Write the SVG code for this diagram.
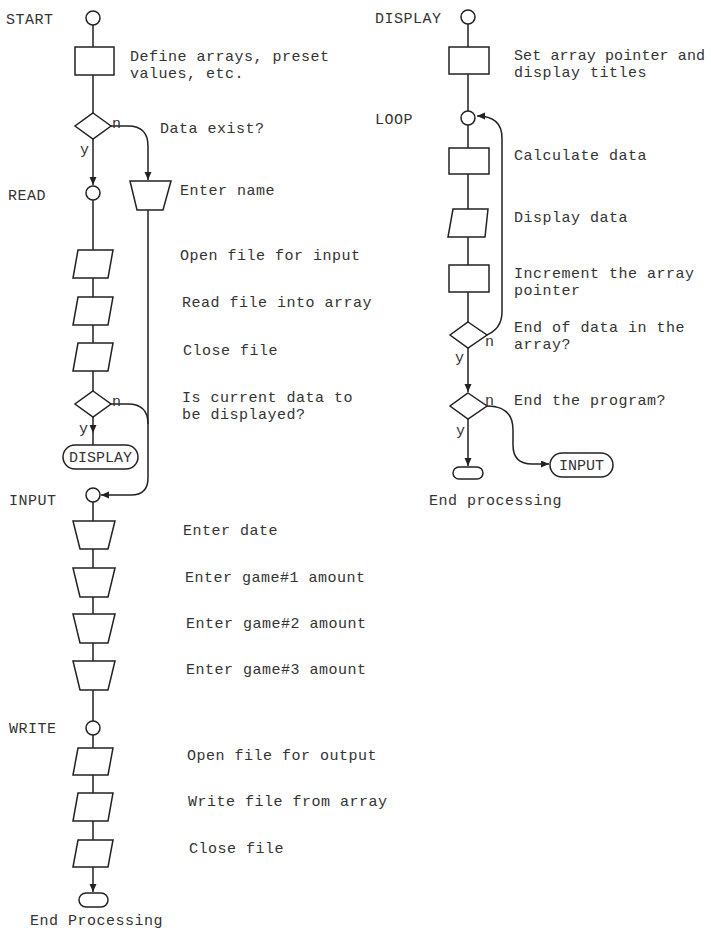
<svg xmlns="http://www.w3.org/2000/svg" width="711" height="931" viewBox="0 0 711 931">
<style>
.s{fill:#fff;stroke:#222;stroke-width:1.5}
.c{fill:none;stroke:#222;stroke-width:1.5}
text{font-family:"Liberation Mono","DejaVu Sans Mono",monospace;font-size:15px;letter-spacing:0.5px;fill:#333}
.t{text-anchor:middle;letter-spacing:0}
.n{letter-spacing:0.1px}
</style>
<defs>
<marker id="a" markerUnits="userSpaceOnUse" markerWidth="9" markerHeight="8" refX="8" refY="3.5" orient="auto">
<path d="M0,0 L8,3.5 L0,7 z" fill="#222"/>
</marker>
</defs>
<rect width="711" height="931" fill="#fff"/>
<g id="connectors">
<path class="c" d="M93,25 V47 M93,75 V113"/>
<path class="c" d="M93,139 V185" marker-end="url(#a)"/>
<path class="c" d="M111,126 H128 Q148,126 148,146 V180" marker-end="url(#a)"/>
<path class="c" d="M93,200 V250 M93,278 V297 M93,325 V343 M93,371 V391"/>
<path class="c" d="M93,417 L93,433 L93,445" marker-mid="url(#a)"/>
<path class="c" d="M111,404 H128 Q148,404 148,424"/>
<path class="c" d="M148,210 V478 Q148,495 131,495 H101" marker-end="url(#a)"/>
<path class="c" d="M93,502 V521 M93,549 V568 M93,597 V614 M93,643 V661 M93,690 V721 M93,735 V748 M93,775 V793 M93,821 V840"/>
<path class="c" d="M93,867 V892" marker-end="url(#a)"/>
<path class="c" d="M468,24 V47 M468,74 V111 M468,125 V148 M468,174 V209 M468,237 V265 M468,292 V322"/>
<path class="c" d="M484,336 Q502,330 502,312 V138 Q502,116 477,116" marker-end="url(#a)"/>
<path class="c" d="M468,348 V392" marker-end="url(#a)"/>
<path class="c" d="M468,419 V466" marker-end="url(#a)"/>
<path class="c" d="M487,406 Q513,406 513,430 V445 Q513,464 532,464 H549" marker-end="url(#a)"/>
</g>
<g id="start"><circle class="s" cx="93" cy="18" r="7"/><text x="6" y="24">START</text></g>
<g id="define"><rect class="s" x="75" y="47" width="39" height="28"/><text x="130" y="61">Define arrays, preset</text><text x="130" y="78">values, etc.</text></g>
<g id="dataexist"><polygon class="s" points="93,113 111,126 93,139 75,126"/><text x="112" y="128">n</text><text x="80" y="154">y</text><text x="160" y="133">Data exist?</text></g>
<g id="entername"><polygon class="s" points="130,181 171,181 163,210 137,210"/><text x="180" y="195">Enter name</text></g>
<g id="read"><circle class="s" cx="93" cy="193" r="7"/><text x="8" y="200">READ</text></g>
<g id="openin"><polygon class="s" points="78,250 113,250 108,278 73,278"/><text x="180" y="260">Open file for input</text></g>
<g id="readfile"><polygon class="s" points="78,297 113,297 108,325 73,325"/><text x="182" y="307">Read file into array</text></g>
<g id="close1"><polygon class="s" points="78,343 113,343 108,371 73,371"/><text x="183" y="355">Close file</text></g>
<g id="isdisplay"><polygon class="s" points="93,391 111,404 93,417 75,404"/><text x="112" y="406">n</text><text x="79" y="433">y</text><text x="182" y="402">Is current data to</text><text x="182" y="419">be displayed?</text></g>
<g id="displayref"><rect class="s" x="63" y="445" width="75" height="24" rx="12"/><text class="t" x="100.5" y="462">DISPLAY</text></g>
<g id="input"><circle class="s" cx="93" cy="495" r="7"/><text x="9" y="505">INPUT</text></g>
<g id="enterdate"><polygon class="s" points="73,521 115,521 108,549 80,549"/><text x="183" y="535">Enter date</text></g>
<g id="game1"><polygon class="s" points="73,568 115,568 108,597 80,597"/><text x="185" y="582">Enter game#1 amount</text></g>
<g id="game2"><polygon class="s" points="73,614 115,614 108,643 80,643"/><text x="186" y="628">Enter game#2 amount</text></g>
<g id="game3"><polygon class="s" points="73,661 115,661 108,690 80,690"/><text x="186" y="674">Enter game#3 amount</text></g>
<g id="write"><circle class="s" cx="93" cy="728" r="7"/><text x="9" y="733">WRITE</text></g>
<g id="openout"><polygon class="s" points="78,748 113,748 108,775 73,775"/><text x="187" y="760">Open file for output</text></g>
<g id="writefile"><polygon class="s" points="78,793 113,793 108,821 73,821"/><text x="188" y="806">Write file from array</text></g>
<g id="close2"><polygon class="s" points="78,840 113,840 108,867 73,867"/><text x="189" y="853">Close file</text></g>
<g id="end1"><rect class="s" x="79" y="893" width="29" height="14" rx="7"/><text x="30" y="925">End Processing</text></g>
<g id="display"><circle class="s" cx="468" cy="17" r="7"/><text x="375" y="23">DISPLAY</text></g>
<g id="setptr"><rect class="s" x="449" y="47" width="40" height="27"/><text class="n" x="514" y="60">Set array pointer and</text><text x="514" y="77">display titles</text></g>
<g id="loop"><circle class="s" cx="468" cy="118" r="7"/><text x="375" y="124">LOOP</text></g>
<g id="calc"><rect class="s" x="449" y="148" width="40" height="26"/><text x="514" y="160">Calculate data</text></g>
<g id="dispdata"><polygon class="s" points="453,209 488,209 485,237 448,237"/><text x="514" y="222">Display data</text></g>
<g id="incr"><rect class="s" x="449" y="265" width="40" height="27"/><text x="514" y="278">Increment the array</text><text x="514" y="295">pointer</text></g>
<g id="endofdata"><polygon class="s" points="468,322 487,335 468,348 450,335"/><text x="485" y="346">n</text><text x="455" y="362">y</text><text x="514" y="332">End of data in the</text><text x="514" y="349">array?</text></g>
<g id="endprog"><polygon class="s" points="468,393 487,406 468,419 450,406"/><text x="485" y="405">n</text><text x="456" y="435">y</text><text x="514" y="405">End the program?</text></g>
<g id="end2"><rect class="s" x="453" y="467" width="30" height="12" rx="6"/><text x="429" y="505">End processing</text></g>
<g id="inputref"><rect class="s" x="550" y="453" width="63" height="24" rx="12"/><text class="t" x="581.5" y="470">INPUT</text></g>
</svg>
